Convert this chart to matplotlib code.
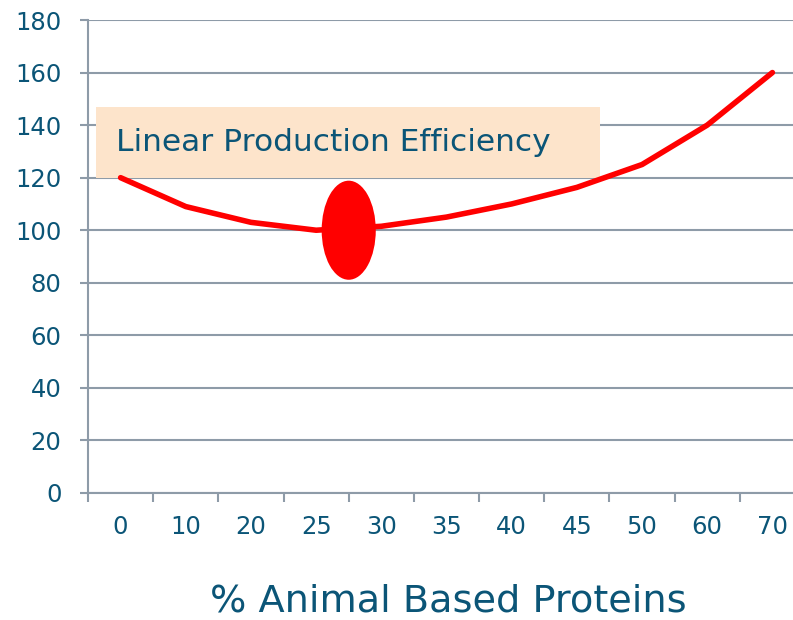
import matplotlib
matplotlib.use("Agg")
import matplotlib.pyplot as plt
from matplotlib.patches import Ellipse, Rectangle
import numpy as np

categories = ["0", "10", "20", "25", "30", "35", "40", "45", "50", "60", "70"]
values = [120, 109, 103, 100, 101.5, 105, 110, 116.3, 125, 140, 160]
y_ticks = [0, 20, 40, 60, 80, 100, 120, 140, 160, 180]
x_label = "% Animal Based Proteins"
box_text = "Linear Production Efficiency"

TXT = "#0B5577"
GRID = "#8E9BA8"

fig = plt.figure(figsize=(7.93, 6.2), dpi=100)
ax = fig.add_axes([88/793, 127/620, (805-88)/793, (493-20)/620])
ax.set_xlim(-0.5, len(categories) - 0.5)
ax.set_ylim(0, 180)

x = np.arange(len(categories))
ax.plot(x, values, color="#FF0000", lw=4.0, solid_capstyle="round", zorder=4)

# grid
ax.set_yticks(y_ticks)
ax.yaxis.grid(True, color=GRID, lw=1.5, zorder=1)
ax.set_axisbelow(True)
for s in ["top", "right"]:
    ax.spines[s].set_visible(False)
for s in ["left", "bottom"]:
    ax.spines[s].set_color(GRID)
    ax.spines[s].set_linewidth(1.5)

ax.tick_params(axis="y", length=6, width=1.5, color=GRID, pad=13,
               labelsize=17.5, labelcolor=TXT)
ax.set_xticks(x)
ax.set_xticklabels(categories)
ax.tick_params(axis="x", which="major", length=0, pad=16, labelsize=17.5, labelcolor=TXT)
ax.set_xticks(np.arange(len(categories) + 1) - 0.5, minor=True)
ax.tick_params(axis="x", which="minor", length=6.5, width=1.5, color=GRID)

ax.set_xlabel(x_label, fontsize=27.5, color=TXT)
ax.xaxis.set_label_coords((448-88)/(805-88), -(601-493)/(493-20), transform=ax.transAxes)
ax.xaxis.label.set_verticalalignment("center")

# annotation box
ax.add_patch(Rectangle((-0.377, 120), 7.73, 27, facecolor="#FDE4CB",
                       edgecolor="none", zorder=3))
ax.text(-0.07, 133.5, box_text, fontsize=22.5, color=TXT, va="center", ha="left", zorder=5)

# ellipse highlight
ax.add_patch(Ellipse((3.5, 100), 0.83, 37.7, facecolor="#FF0000", edgecolor="none", zorder=6))

fig.savefig("out.png", dpi=100)
